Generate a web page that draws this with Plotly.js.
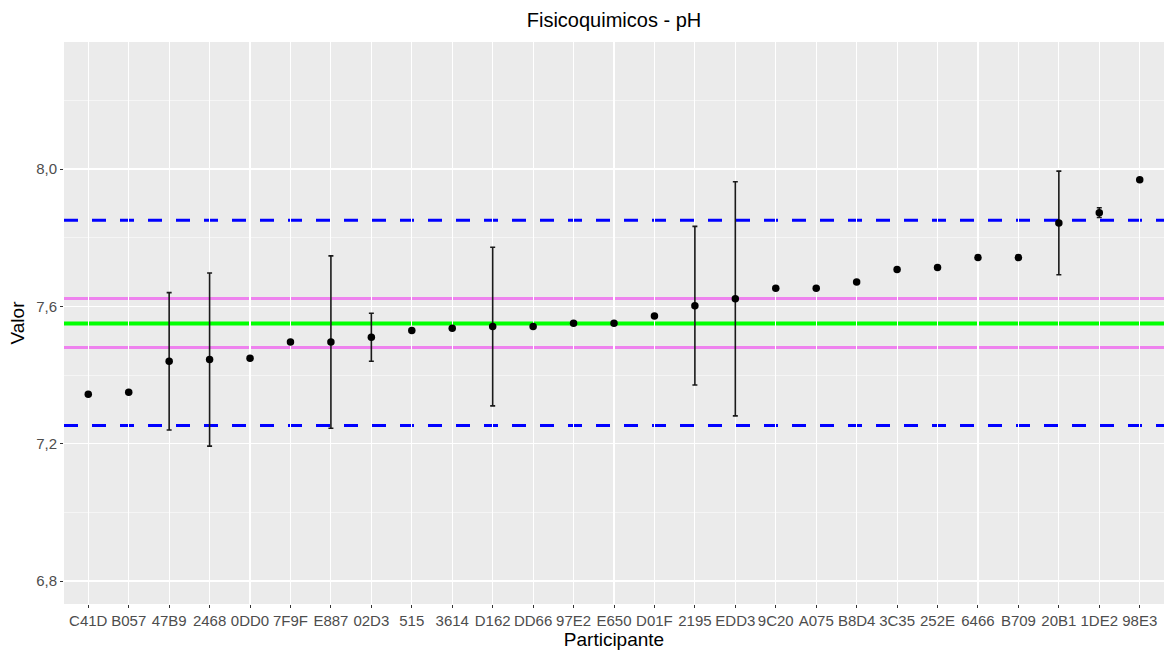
<!DOCTYPE html>
<html>
<head>
<meta charset="utf-8">
<script src="https://cdn.plot.ly/plotly-3.0.1.min.js"></script>
<style>html,body{margin:0;padding:0;background:#fff;}#chart{width:1168px;height:654px;}</style>
</head>
<body>
<div id="chart"></div>
<script>
const participantes = ["C41D","B057","47B9","2468","0DD0","7F9F","E887","02D3","515","3614","D162","DD66","97E2","E650","D01F","2195","EDD3","9C20","A075","B8D4","3C35","252E","6466","B709","20B1","1DE2","98E3"];
const valores = [7.344,7.350,7.440,7.445,7.449,7.496,7.496,7.510,7.530,7.536,7.541,7.541,7.551,7.551,7.572,7.602,7.622,7.653,7.653,7.671,7.707,7.713,7.742,7.742,7.843,7.873,7.969];
const incertidumbre = [null,null,0.200,0.252,null,null,0.251,0.070,null,null,0.231,null,null,null,null,0.231,0.341,null,null,null,null,null,null,null,0.151,0.014,null];
const valorAsignado = 7.550;
const limiteInterno = [7.480, 7.623];
const limiteExterno = [7.253, 7.851];
const yTicks = [6.8, 7.2, 7.6, 8.0];

const trace = {
  type: 'scatter', mode: 'markers',
  x: participantes, y: valores,
  marker: {color: '#000000', size: 7.5},
  error_y: {type: 'data', array: incertidumbre, symmetric: true, visible: true, color: '#1a1a1a', thickness: 1.6, width: 2.5},
  showlegend: false, hoverinfo: 'x+y'
};

function hline(y, color, width, dash) {
  return {type: 'line', xref: 'paper', x0: 0, x1: 1, yref: 'y', y0: y, y1: y, layer: 'below',
          line: {color: color, width: width, dash: dash}};
}
const shapes = [
  hline(limiteExterno[0], '#0000FF', 3, '14px,14px'),
  hline(limiteExterno[1], '#0000FF', 3, '14px,14px'),
  hline(limiteInterno[0], '#EE82EE', 3, 'solid'),
  hline(limiteInterno[1], '#EE82EE', 3, 'solid'),
  hline(valorAsignado, '#00FF00', 4, 'solid')
];

const layout = {
  width: 1168, height: 654,
  separators: ',.',
  paper_bgcolor: '#ffffff', plot_bgcolor: '#EBEBEB',
  margin: {l: 64, r: 4, t: 42, b: 50},
  font: {family: '"Liberation Sans", Arial, sans-serif', color: '#000'},
  title: {text: 'Fisicoquimicos - pH', x: 0.5257, xanchor: 'center', y: 0.969, yanchor: 'middle', font: {size: 20, color: '#000'}},
  xaxis: {
    type: 'category', range: [-0.6, 26.6],
    showgrid: true, gridcolor: '#ffffff', gridwidth: 1.1,
    zeroline: false, showline: false,
    ticks: 'outside', ticklen: 3, tickcolor: '#333333', tickwidth: 1,
    tickfont: {size: 15, color: '#4D4D4D'},
    title: {text: 'Participante', font: {size: 19, color: '#000'}, standoff: 2},
    automargin: false,
    fixedrange: true
  },
  yaxis: {
    range: [6.733, 8.370],
    tickvals: yTicks, tickformat: '.1f',
    showgrid: true, gridcolor: '#ffffff', gridwidth: 1.1,
    minor: {dtick: 0.2, tick0: 7.0, showgrid: true, gridcolor: '#ffffff', gridwidth: 0.5, ticks: ''},
    zeroline: false, showline: false,
    ticks: 'outside', ticklen: 3, tickcolor: '#333333', tickwidth: 1,
    tickfont: {size: 15, color: '#4D4D4D'},
    title: {text: 'Valor', font: {size: 19, color: '#000'}, standoff: 6},
    automargin: false,
    fixedrange: true
  },
  shapes: shapes
};

Plotly.newPlot('chart', [trace], layout, {displayModeBar: false, staticPlot: true});
</script>
</body>
</html>
